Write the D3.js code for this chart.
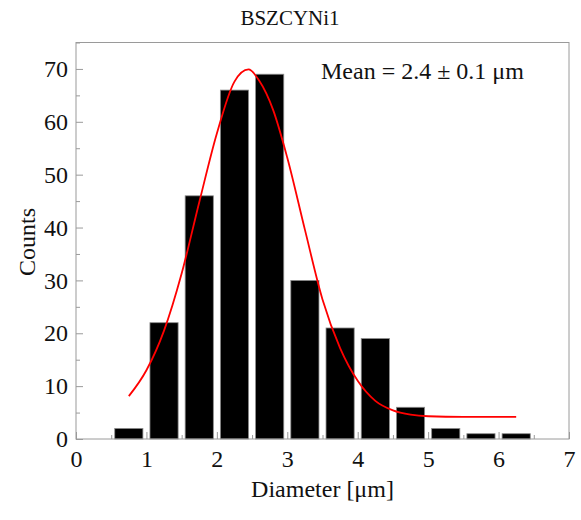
<!DOCTYPE html>
<html>
<head>
<meta charset="utf-8">
<script src="https://cdn.jsdelivr.net/npm/d3@7"></script>
<style>
  html, body { margin: 0; padding: 0; background: #fff; }
  svg text { font-family: "Liberation Serif", "Times New Roman", serif; fill: #111; }
</style>
</head>
<body>
<svg id="chart" width="581" height="520"></svg>
<script>
// Histogram of particle diameters (bin centres, µm) and counts per bin
const binCenters = [0.75, 1.25, 1.75, 2.25, 2.75, 3.25, 3.75, 4.25, 4.75, 5.25, 5.75, 6.25];
const counts     = [2, 22, 46, 66, 69, 30, 21, 19, 6, 2, 1, 1];

// Fitted distribution curve, sampled along the diameter axis
const fitX = [0.75, 1.0, 1.25, 1.5, 1.75, 2.0, 2.25, 2.45, 2.6, 2.8, 3.0, 3.25, 3.5, 3.75, 4.0, 4.25, 4.5, 4.75, 5.0, 5.5, 6.0, 6.25];
const fitY = [8.1, 13.0, 20.5, 31.3, 44.8, 57.8, 67.6, 69.9, 67.8, 62.2, 53.2, 39.6, 26.4, 17.2, 11.0, 7.2, 5.4, 4.6, 4.3, 4.2, 4.2, 4.2];

const xTicks = [0, 1, 2, 3, 4, 5, 6, 7];
const yTicks = [0, 10, 20, 30, 40, 50, 60, 70];

const title = "BSZCYNi1";
const xLabel = "Diameter [μm]";
const yLabel = "Counts";
const note = "Mean = 2.4 ± 0.1 μm";

const barWidth = 0.4;

const svg = d3.select("#chart");
const plotLeft = 76, plotRight = 569, plotTop = 42.5, plotBottom = 439;

const x = d3.scaleLinear().domain([0, 7]).range([plotLeft, plotRight]);
const y = d3.scaleLinear().domain([0, 75]).range([plotBottom, plotTop]);

const axisColor = "#9a9a9a";

// bars
svg.append("g")
  .selectAll("rect")
  .data(binCenters.map((c, i) => ({ c, v: counts[i] })))
  .join("rect")
  .attr("x", d => x(d.c - barWidth / 2))
  .attr("width", d => x(d.c + barWidth / 2) - x(d.c - barWidth / 2))
  .attr("y", d => y(d.v))
  .attr("height", d => y(0) - y(d.v))
  .attr("fill", "#000")
  .attr("stroke", "#8c8c8c")
  .attr("stroke-width", 0.8);

// fit curve
const line = d3.line()
  .x(d => x(d[0]))
  .y(d => y(d[1]))
  .curve(d3.curveMonotoneX);
svg.append("path")
  .datum(fitX.map((v, i) => [v, fitY[i]]))
  .attr("d", line)
  .attr("fill", "none")
  .attr("stroke", "#ff0000")
  .attr("stroke-width", 1.8);

// frame
svg.append("rect")
  .attr("x", plotLeft).attr("y", plotTop)
  .attr("width", plotRight - plotLeft).attr("height", plotBottom - plotTop)
  .attr("fill", "none")
  .attr("stroke", axisColor)
  .attr("stroke-width", 1);

// bottom axis: inward ticks, majors at integers, minors at halves
const xAxis = d3.axisBottom(x)
  .tickValues(d3.range(0, 7.01, 0.5))
  .tickSize(-7)
  .tickPadding(12)
  .tickFormat(d => Number.isInteger(d) && xTicks.includes(d) ? d3.format("d")(d) : "");
const gx = svg.append("g").attr("transform", `translate(0,${plotBottom})`).call(xAxis);
gx.select(".domain").remove();
gx.selectAll(".tick line")
  .attr("stroke", axisColor)
  .attr("y2", d => Number.isInteger(d) ? -7 : -4);
gx.selectAll(".tick text")
  .attr("y", 11)
  .attr("dy", "0.71em")
  .style("font-size", "24px")
  .attr("fill", "#111");

// left axis
const yAxis = d3.axisLeft(y)
  .tickValues(d3.range(0, 75.01, 5))
  .tickSize(-7)
  .tickPadding(8)
  .tickFormat(d => yTicks.includes(d) ? d3.format("d")(d) : "");
const gy = svg.append("g").attr("transform", `translate(${plotLeft},0)`).call(yAxis);
gy.select(".domain").remove();
gy.selectAll(".tick line")
  .attr("stroke", axisColor)
  .attr("x2", d => d % 10 === 0 ? 7 : 4);
gy.selectAll(".tick text")
  .attr("x", -8)
  .style("font-size", "24px")
  .attr("fill", "#111");

// title and axis labels
svg.append("text")
  .attr("x", 290).attr("y", 25)
  .attr("text-anchor", "middle")
  .style("font-size", "21px")
  .text(title);

svg.append("text")
  .attr("x", (plotLeft + plotRight) / 2).attr("y", 497)
  .attr("text-anchor", "middle")
  .style("font-size", "24px")
  .text(xLabel);

svg.append("text")
  .attr("transform", "translate(35,242) rotate(-90)")
  .attr("text-anchor", "middle")
  .style("font-size", "24px")
  .text(yLabel);

svg.append("text")
  .attr("x", 321).attr("y", 79)
  .style("font-size", "24px")
  .text(note);
</script>
</body>
</html>
